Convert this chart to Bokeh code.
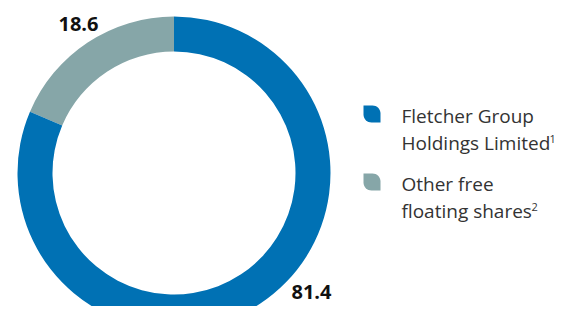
import math
from bokeh.plotting import figure
from bokeh.models import Range1d
from bokeh.core.properties import value
from bokeh.embed import file_html
from bokeh.resources import INLINE

# data
categories = ["Other free floating shares", "Fletcher Group Holdings Limited"]
shares = [18.6, 81.4]
labels = ["18.6", "81.4"]
colors = ["#86a6a8", "#0071b4"]
legend_lines = [["Fletcher Group", "Holdings Limited"], ["Other free", "floating shares"]]
legend_sup = ["1", "2"]
legend_colors = ["#0071b4", "#86a6a8"]

W, H = 557, 306
p = figure(width=W, height=H, output_backend="svg", toolbar_location=None,
           x_range=Range1d(0, W), y_range=Range1d(-H, 0),
           min_border=0, outline_line_color=None)
p.axis.visible = False
p.grid.visible = False
p.background_fill_color = "white"
p.border_fill_color = "white"

cx, cy = 173.5, -172.5
r_out, r_in = 156.5, 121.5

total = sum(shares)
start = math.pi / 2
starts, ends = [], []
for v in shares:
    a = v / total * 2 * math.pi
    starts.append(start)
    ends.append(start + a)
    start += a

p.annular_wedge(x=[cx] * 2, y=[cy] * 2, inner_radius=r_in, outer_radius=r_out,
                start_angle=starts, end_angle=ends, direction="anticlock",
                fill_color=colors, line_color=None)

TY = 8  # text vertical correction

# value labels
p.text(x=[58, 291], y=[-(31 - TY), -(299 - TY)], text=labels, text_font=value("Open Sans"),
       text_font_style="bold", text_font_size="20px", text_color="#111111",
       text_baseline="alphabetic", text_align="left")

# legend markers (leaf shapes)
def leaf(x0, y0, s, r):
    pts = [(x0, y0)]
    n = 8
    for i in range(n + 1):
        t = -math.pi / 2 + i * (math.pi / 2) / n
        pts.append((x0 + s - r + r * math.cos(t), y0 + r + r * math.sin(t)))
    pts.append((x0 + s, y0 + s))
    for i in range(n + 1):
        t = math.pi / 2 + i * (math.pi / 2) / n
        pts.append((x0 + r + r * math.cos(t), y0 + s - r + r * math.sin(t)))
    xs = [q[0] for q in pts]
    ys = [-q[1] for q in pts]
    return xs, ys

marker_tops = [105, 173]
for top, col in zip(marker_tops, legend_colors):
    xs, ys = leaf(363, top, 17, 8)
    p.patch(xs, ys, fill_color=col, line_color=None)

baselines = [[123, 150], [191, 218]]
for lines, bl in zip(legend_lines, baselines):
    p.text(x=[401, 401], y=[-(bl[0] - TY), -(bl[1] - TY)], text=lines,
           text_font=value("Open Sans"), text_font_size="19px",
           text_color="#333333", text_baseline="alphabetic")

sup_x = [549, 531]
sup_y = [-(146 - TY), -(214 - TY)]
p.text(x=sup_x, y=sup_y, text=legend_sup, text_font=value("Open Sans"),
       text_font_size="11px", text_color="#333333", text_baseline="alphabetic")

open("out.html", "w").write(file_html(p, INLINE))
